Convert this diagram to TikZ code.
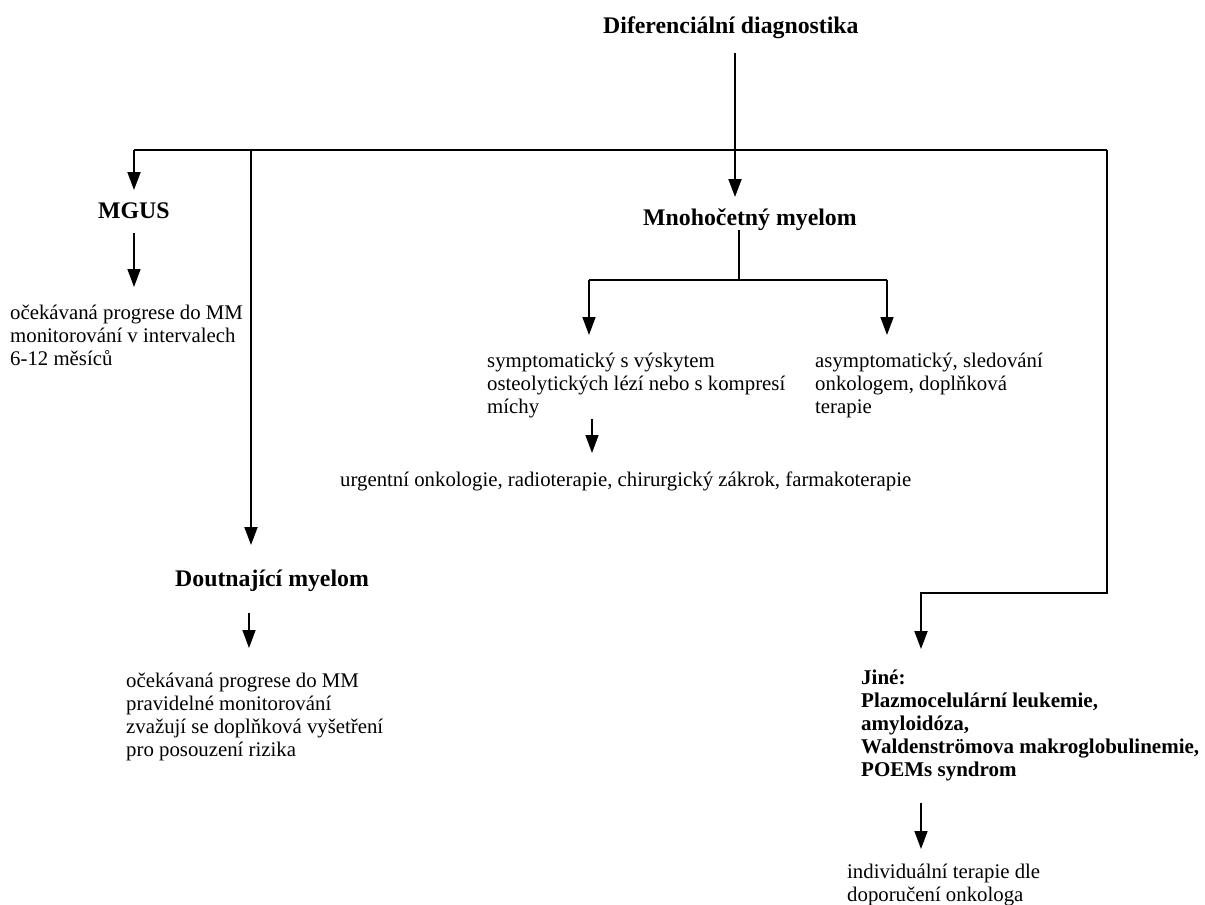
\documentclass[tikz,border=0pt]{standalone}
\usepackage{fontspec}
\setmainfont{Liberation Serif}
\usetikzlibrary{arrows.meta,calc}
\begin{document}
\begin{tikzpicture}[x=1pt,y=-1pt,
  head/.style={font=\fontsize{23.8}{26}\selectfont\bfseries, inner sep=0pt, anchor=base west},
  txt/.style={font=\fontsize{20.8}{23}\selectfont, inner sep=0pt, anchor=base west},
  boldtxt/.style={font=\fontsize{21}{23}\selectfont\bfseries, inner sep=0pt, anchor=base west},
  main/.style={line width=2pt},
  sub/.style={line width=1.5pt},
  tip/.style={-{Triangle[length=18pt,width=13pt]}},
]
\useasboundingbox (0,0) rectangle (1205,905);

% nodes
\node[head] (title) at (603,33) {Diferenciální diagnostika};
\node[head] (mgus) at (98,218) {MGUS};
\node[txt] (mgustext) at (10,319) {\begin{tabular}[t]{@{}l@{}}očekávaná progrese do MM\\monitorování v intervalech\\6-12 měsíců\end{tabular}};
\node[head] (mm) at (643,225) {Mnohočetný myelom};
\node[txt] (sym) at (487,367) {\begin{tabular}[t]{@{}l@{}}symptomatický s výskytem\\osteolytických lézí nebo s kompresí\\míchy\end{tabular}};
\node[txt] (asym) at (815,367) {\begin{tabular}[t]{@{}l@{}}asymptomatický, sledování\\onkologem, doplňková\\terapie\end{tabular}};
\node[txt] (urg) at (340,486) {urgentní onkologie, radioterapie, chirurgický zákrok, farmakoterapie};
\node[head] (dout) at (175,586) {Doutnající myelom};
\node[txt] (douttext) at (126,687) {\begin{tabular}[t]{@{}l@{}}očekávaná progrese do MM\\pravidelné monitorování\\zvažují se doplňková vyšetření\\pro posouzení rizika\end{tabular}};
\node[boldtxt] (jine) at (861,684) {\begin{tabular}[t]{@{}l@{}}Jiné:\\Plazmocelulární leukemie,\\amyloidóza,\\Waldenströmova makroglobulinemie,\\POEMs syndrom\end{tabular}};
\node[txt] (indiv) at (847,878) {\begin{tabular}[t]{@{}l@{}}individuální terapie dle\\doporučení onkologa\end{tabular}};

% junction coordinates
\coordinate (bus) at (735,150);
\coordinate (busL) at (134,150);
\coordinate (busD) at (251,150);
\coordinate (busR) at (1107,150);
\coordinate (jbend) at (921,593);
\coordinate (mmsplit) at (739,280);
\coordinate (symx) at (589,280);
\coordinate (asymx) at (887,280);
\coordinate (urgx) at (592,0);
\coordinate (doutx) at (249,0);

% connectors
\draw[main,tip] ($(title.base -| bus)+(0,20)$) -- ($(mm.base -| bus)+(0,-28)$);
\draw[main] (busL) -- (busR);
\draw[main,tip] (busL) -- ($(mgus.base -| busL)+(0,-28)$);
\draw[main,tip] (busD) -- ($(dout.base -| busD)+(0,-41)$);
\draw[main,tip] (busR) |- (jbend) -- ($(jine.base -| jbend)+(0,-35)$);

\draw[sub,tip] ($(mgus.base -| busL)+(0,15)$) -- ($(mgustext.base -| busL)+(0,-32)$);

\draw[sub] ($(mm.base -| mmsplit)+(0,5)$) -- (mmsplit);
\draw[sub] (symx) -- (asymx);
\draw[sub,tip] (symx) -- ($(sym.base -| symx)+(0,-32)$);
\draw[sub,tip] (asymx) -- ($(asym.base -| asymx)+(0,-32)$);
\draw[sub,tip] ($(sym.base -| urgx)+(0,52)$) -- ($(urg.base -| urgx)+(0,-33)$);

\draw[sub,tip] ($(dout.base -| doutx)+(0,27)$) -- ($(douttext.base -| doutx)+(0,-39)$);
\draw[sub,tip] ($(jine.base -| jbend)+(0,119)$) -- ($(indiv.base -| jbend)+(0,-29)$);
\end{tikzpicture}
\end{document}
